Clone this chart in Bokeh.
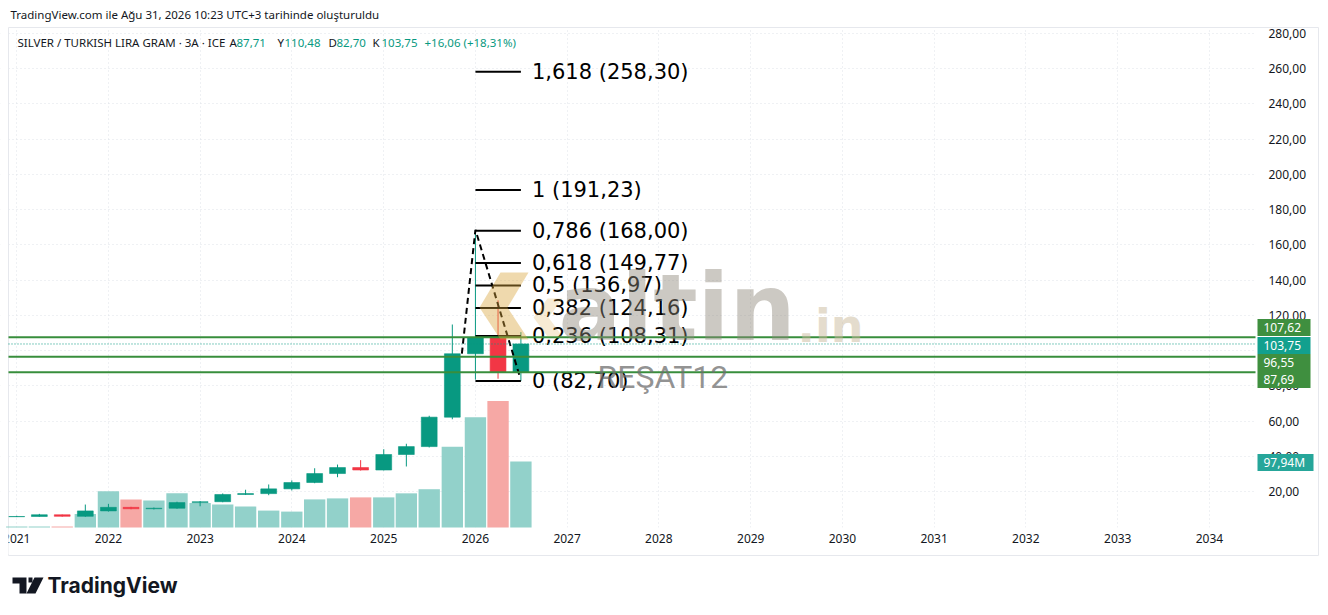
from datetime import datetime, timedelta
from bokeh.plotting import figure
from bokeh.models import Range1d, FixedTicker, Label, PolyAnnotation, ColumnDataSource
from bokeh.core.properties import value
from bokeh.embed import file_html
from bokeh.resources import INLINE

# ---------------- data ----------------
quarters = ["2021-01-01", "2021-04-01", "2021-07-01", "2021-10-01",
            "2022-01-01", "2022-04-01", "2022-07-01", "2022-10-01",
            "2023-01-01", "2023-04-01", "2023-07-01", "2023-10-01",
            "2024-01-01", "2024-04-01", "2024-07-01", "2024-10-01",
            "2025-01-01", "2025-04-01", "2025-07-01", "2025-10-01",
            "2026-01-01", "2026-04-01", "2026-07-01"]
opens  = [5.7, 5.8, 6.8, 5.9, 9.0, 11.0, 10.2, 10.5, 13.7, 14.2, 18.3, 18.8,
          21.5, 25.1, 30.2, 33.6, 32.2, 41.0, 45.5, 62.2, 98.2, 107.3, 87.71]
highs  = [6.2, 7.3, 6.9, 12.6, 13.0, 11.3, 10.9, 14.2, 14.6, 18.9, 21.0, 24.0,
          26.3, 33.2, 35.3, 37.8, 44.0, 47.1, 63.0, 114.8, 168.5, 128.5, 110.48]
lows   = [5.5, 5.7, 5.7, 5.6, 8.6, 9.9, 9.8, 10.2, 11.6, 13.9, 18.0, 17.9,
          20.6, 24.7, 28.1, 31.9, 32.0, 34.2, 45.0, 61.0, 83.5, 84.0, 82.70]
closes = [5.8, 6.8, 5.9, 9.0, 11.0, 10.2, 10.5, 13.7, 14.2, 18.3, 18.8, 21.5,
          25.1, 30.2, 33.6, 32.2, 41.0, 45.5, 62.2, 98.2, 107.3, 87.7, 103.75]
volumes_m = [1.5, 1.5, 1.5, 20.0, 53.7, 41.7, 40.2, 50.7, 36.2, 34.2, 31.1, 25.1,
             23.6, 41.7, 43.2, 44.7, 44.7, 50.7, 56.8, 120.0, 163.7, 187.8, 97.94]

# Fibonacci drawing
fib_start, fib_end = "2026-01-01", "2026-07-01"
fib_ratios = ["1,618", "1", "0,786", "0,618", "0,5", "0,382", "0,236", "0"]
fib_prices = [258.30, 191.23, 168.00, 149.77, 136.97, 124.16, 108.31, 82.70]

# dashed zig-zag drawing
zig_dates = ["2025-11-08", "2026-01-01", "2026-06-25"]
zig_prices = [98.3, 168.6, 86.0]

# horizontal lines
hlines = [107.62, 96.55, 87.69]
hline_labels = ["107,62", "96,55", "87,69"]
last_price = 103.75
last_price_label = "103,75"
last_volume_label = "97,94M"

price_ticks = [20, 40, 60, 80, 100, 120, 140, 160, 180, 200, 220, 240, 260, 280]
years = [2021, 2022, 2023, 2024, 2025, 2026, 2027, 2028, 2029, 2030, 2031, 2032, 2033, 2034]

# ---------------- styling ----------------
UP, DOWN = "#089981", "#F23645"
VUP, VDOWN = "#92d1ca", "#f6a8a5"
HL = "#388e3c"
HLBG = "#3f8f3f"
TXT = "#131722"
AXFONT = "Noto Sans"
W, H = 1320, 607

# page-pixel calibration of the layout (frame = whole canvas)
EPOCH = datetime(1970, 1, 1)
X0, X0_PX, PX_PER_DAY = datetime(2021, 1, 1), 16.25, 91.75 / 365.25
PX_PER_UNIT = 1.7615
def px_to_date(px):
    return X0 + timedelta(days=(px - X0_PX) / PX_PER_DAY)
def py_to_price(py):
    return 20 + (491 - py) / PX_PER_UNIT
def ms(dt):
    return (dt - EPOCH).total_seconds() * 1000
VOL_PER_PX = 97.94 / 66
CHART_L, CHART_R, CHART_T, CHART_B, AXIS_B, SCALE_R = 8, 1255, 27, 527, 555, 1318

DAY_MS = 86400000
dates = [datetime.fromisoformat(q) for q in quarters]
is_up = [c >= o for o, c in zip(opens, closes)]
src = ColumnDataSource(dict(
    x=dates, o=opens, h=highs, l=lows, c=closes,
    top=[max(o, c) for o, c in zip(opens, closes)],
    bot=[min(o, c) for o, c in zip(opens, closes)],
    col=[UP if u else DOWN for u in is_up],
    vcol=[VUP if u else VDOWN for u in is_up],
    vol=volumes_m,
))

p = figure(width=W, height=H, output_backend="svg", toolbar_location=None,
           x_axis_type="datetime", y_axis_location="right",
           x_range=Range1d(px_to_date(0), px_to_date(W)),
           y_range=Range1d(py_to_price(H), py_to_price(0)),
           min_border_left=0, min_border_right=0, min_border_top=0, min_border_bottom=0)
p.extra_y_ranges = {"vol": Range1d(-(H - CHART_B) * VOL_PER_PX, CHART_B * VOL_PER_PX)}
p.outline_line_color = None
p.background_fill_color = "white"
p.border_fill_color = "white"

# axes (drawn at fixed locations so the frame fills the canvas)
year_ms = [ms(datetime(y, 1, 1)) for y in years]
xa = p.xaxis[0]
xa.ticker = FixedTicker(ticks=year_ms)
xa.major_label_overrides = {t: str(y) for t, y in zip(year_ms, years)}
xa.fixed_location = py_to_price(CHART_B)
ya = p.yaxis[0]
ya.ticker = FixedTicker(ticks=price_ticks)
ya.major_label_overrides = {t: f"{t:.2f}".replace(".", ",") for t in price_ticks}
ya.fixed_location = ms(px_to_date(CHART_R))
for ax in (xa, ya):
    ax.axis_line_color = None
    ax.major_tick_line_color = None
    ax.minor_tick_line_color = None
    ax.major_tick_out = 0
    ax.major_tick_in = 0
    ax.major_label_text_font = AXFONT
    ax.major_label_text_font_size = "12px"
    ax.major_label_text_color = TXT
xa.major_label_standoff = 6
ya.major_label_standoff = 13
for g in (p.xgrid[0], p.ygrid[0]):
    g.grid_line_color = "#dfe2e8"
    g.grid_line_dash = "1 3"
    g.grid_line_width = 1

# white strips outside the chart pane (hide grid there)
for (l, r, t, b) in [(0, CHART_L, 0, H), (CHART_R, W, 0, H), (0, W, 0, CHART_T), (0, W, CHART_B, H)]:
    p.quad(left=px_to_date(l), right=px_to_date(r), top=py_to_price(t), bottom=py_to_price(b),
           fill_color="white", line_color=None)
# pane border
p.quad(left=px_to_date(CHART_L), right=px_to_date(SCALE_R), top=py_to_price(CHART_T),
       bottom=py_to_price(AXIS_B), fill_color=None, line_color="#e6e8ed", line_width=1)

# volume
p.vbar(x="x", top="vol", bottom=0, width=85 * DAY_MS, fill_color="vcol", line_color=None,
       source=src, y_range_name="vol")
# candles
p.segment(x0="x", y0="l", x1="x", y1="h", line_color="col", line_width=1, source=src)
p.vbar(x="x", top="top", bottom="bot", width=63 * DAY_MS, fill_color="col", line_color="col",
       line_width=0.6, source=src)

# zig-zag dashed
p.line([datetime.fromisoformat(d) for d in zig_dates], zig_prices, line_color="black",
       line_width=2, line_dash="6 4")

# fib lines & labels
fs, fe = datetime.fromisoformat(fib_start), datetime.fromisoformat(fib_end)
p.segment(x0=[fs] * len(fib_prices), x1=[fe] * len(fib_prices), y0=fib_prices, y1=fib_prices,
          line_color="black", line_width=2)
fib_text = [f"{r} ({f'{v:.2f}'.replace('.', ',')})" for r, v in zip(fib_ratios, fib_prices)]
p.text(x=[fe] * len(fib_prices), y=fib_prices, text=fib_text, x_offset=11,
       text_baseline="middle", text_align="left", text_font=value("DejaVu Sans"),
       text_font_size="21px", text_color="black")

# horizontal lines across the pane
pane_l, pane_r = px_to_date(CHART_L), px_to_date(CHART_R)
p.segment(x0=[pane_l] * len(hlines), x1=[pane_r] * len(hlines), y0=hlines, y1=hlines,
          line_color=HL, line_width=2)
p.segment(x0=[pane_l], x1=[pane_r], y0=[last_price], y1=[last_price], line_color=UP,
          line_width=1, line_dash="1 2")

# ---------------- annotations (screen units: frame = canvas) -------------
def sy(py):
    return H - py

def poly(xs, ys, color, alpha):
    p.add_layout(PolyAnnotation(xs=xs, ys=[sy(v) for v in ys], xs_units="screen", ys_units="screen",
                                fill_color=color, fill_alpha=alpha, line_color=None))

# the time-scale label of 2021 is cut by the pane's left edge
poly([0, CHART_L, CHART_L, 0], [CHART_B + 1, CHART_B + 1, AXIS_B - 1, AXIS_B - 1], "white", 1)

gold = "#d9a53c"
poly([500, 528, 507, 479], [272, 272, 307, 307], gold, 0.42)
poly([479, 507, 528, 500], [307, 307, 339, 339], gold, 0.42)
poly([547, 562, 548, 562, 547, 533], [298, 298, 317, 336, 336, 317], gold, 0.22)

def txt_label(t, px, py, color=TXT, size="11.5px", font=AXFONT, style="normal", alpha=1.0, **kw):
    p.add_layout(Label(x=px, y=sy(py), x_units="screen", y_units="screen", text=t,
                       text_font=font, text_font_size=size, text_color=color, text_alpha=alpha,
                       text_font_style=style, text_baseline="middle", **kw))

txt_label("altin", 558, 307, color="#8f877a", size="93px", font="DejaVu Sans", style="bold", alpha=0.45)
txt_label(".in", 797, 325, color="#c9b99c", size="46px", font="DejaVu Sans", style="bold", alpha=0.5)
txt_label("REŞAT12", 597, 376, color="#707070", size="32px", font="Roboto", alpha=0.75)

# ---------------- price-scale labels ----------------
def scale_label(txt, py, bg, right=1310):
    poly([1257, right, right, 1257], [py - 8.5, py - 8.5, py + 8.5, py + 8.5], bg, 1)
    txt_label(txt, 1263, py, color="white", size="12px")

scale_label(hline_labels[0], 327, HLBG)
scale_label(last_price_label, 345, "#12a08e")
scale_label(hline_labels[1], 362, HLBG)
scale_label(hline_labels[2], 379, HLBG)
scale_label(last_volume_label, 462, "#26a69a", right=1313)

# ---------------- header / footer ----------------
txt_label("TradingView.com ile Ağu 31, 2026 10:23 UTC+3 tarihinde oluşturuldu", 10, 14)
header = [("SILVER / TURKISH LIRA GRAM · 3A · ICE", 17, TXT), ("A", 229, TXT), ("87,71", 236, UP),
          ("Y", 277, TXT), ("110,48", 284, UP), ("D", 328, TXT), ("82,70", 336, UP),
          ("K", 372, TXT), ("103,75", 381, UP), ("+16,06 (+18,31%)", 424, UP)]
for t, px, c in header:
    txt_label(t, px, 42, color=c)

# TradingView logo
poly([12, 26, 26, 19, 19, 12], [577, 577, 593, 593, 583, 583], TXT, 1)
poly([28, 32, 32, 28], [577, 577, 582, 582], TXT, 1)
poly([34, 43, 35, 26], [577, 577, 593, 593], TXT, 1)
txt_label("TradingView", 47, 585, size="21px", font="Inter", style="bold")

open("out.html", "w").write(file_html(p, INLINE))
